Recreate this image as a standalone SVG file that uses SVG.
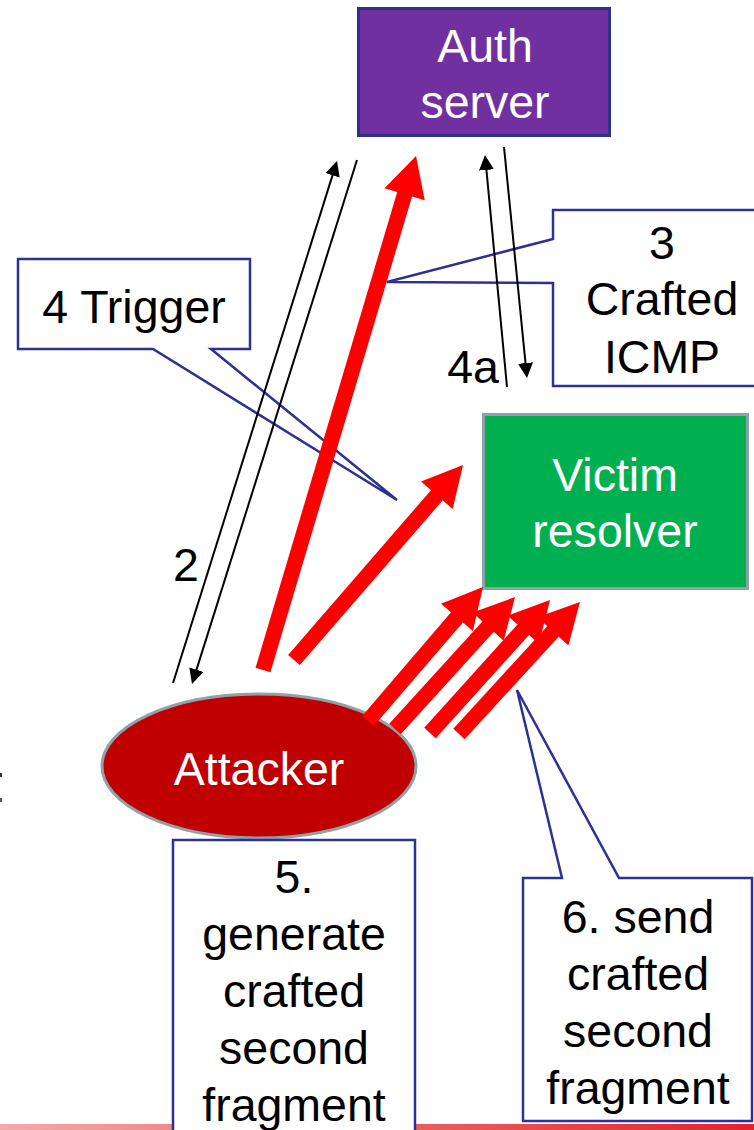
<svg xmlns="http://www.w3.org/2000/svg" width="754" height="1130" viewBox="0 0 754 1130">
<style>
text{font-family:"Liberation Sans",Arial,sans-serif;font-size:46.5px;text-anchor:middle}
.w{fill:#ffffff}
.k{fill:#000000}
.call{fill:#ffffff;stroke:#2E3192;stroke-width:2.5;stroke-linejoin:miter}
.red{stroke:#FF0000;stroke-width:15.5;fill:none}
.blk{stroke:#000000;stroke-width:2;fill:none}
</style>
<defs>
<linearGradient id="bar" x1="0" y1="0" x2="1" y2="0">
<stop offset="0" stop-color="#F5A9A9"/>
<stop offset="0.5" stop-color="#EE6464"/>
<stop offset="1" stop-color="#E8202A"/>
</linearGradient>
<marker id="rh" markerUnits="userSpaceOnUse" markerWidth="42" markerHeight="42" refX="1" refY="21" orient="auto" viewBox="0 0 40 42">
<path d="M0,0 L40,21 L0,42 Z" fill="#FF0000"/>
</marker>
<marker id="bh" markerUnits="userSpaceOnUse" markerWidth="15" markerHeight="15" refX="12" refY="7.5" orient="auto" viewBox="0 0 15 15">
<path d="M0,0 L15,7.5 L0,15 Z" fill="#000000"/>
</marker>
</defs>
<rect x="0" y="1124" width="754" height="6" fill="url(#bar)"/>
<rect x="0" y="773" width="2" height="4" fill="#333333"/>
<rect x="0" y="798" width="2" height="4" fill="#555555"/>

<g id="auth-server">
<rect x="358.5" y="8.5" width="251" height="127" fill="#7030A0" stroke="#2E3192" stroke-width="3"/>
<text class="w" x="485" y="62">Auth</text>
<text class="w" x="485" y="118">server</text>
</g>

<g id="victim-resolver">
<rect x="483.5" y="414.5" width="264" height="174" fill="#00B050" stroke="#8FA2A8" stroke-width="3"/>
<text class="w" x="615" y="491">Victim</text>
<text class="w" x="615" y="547">resolver</text>
</g>

<g id="attacker">
<ellipse cx="259" cy="766" rx="157" ry="72" fill="#C00000" stroke="#8FA2A8" stroke-width="3"/>
<text class="w" x="259" y="785">Attacker</text>
</g>

<g id="label-2"><text class="k" x="186" y="581">2</text></g>
<g id="label-4a"><text class="k" x="473" y="383">4a</text></g>

<g id="callout-trigger">
<path class="call" d="M18,259 H250 V349 H211 L397,500 L153,349 H18 Z"/>
<text class="k" x="134" y="323">4 Trigger</text>
</g>

<g id="callout-icmp">
<path class="call" d="M553,210 H760 V386 H553 V283 L387,282 L553,239 Z"/>
<text class="k" x="662" y="259">3</text>
<text class="k" x="662" y="315">Crafted</text>
<text class="k" x="662" y="373">ICMP</text>
</g>

<g id="callout-generate">
<path class="call" d="M173,840 H415 V1140 H173 Z"/>
<text class="k" x="294" y="893">5.</text>
<text class="k" x="294" y="950">generate</text>
<text class="k" x="294" y="1007">crafted</text>
<text class="k" x="294" y="1064">second</text>
<text class="k" x="294" y="1121">fragment</text>
</g>

<g id="callout-send">
<path class="call" d="M523,878 H562 L517,690 L619,878 H752 V1121 H523 Z"/>
<text class="k" x="638" y="933">6. send</text>
<text class="k" x="638" y="990">crafted</text>
<text class="k" x="638" y="1047">second</text>
<text class="k" x="638" y="1104">fragment</text>
</g>

<g id="connectors">
<line class="blk" x1="173" y1="683" x2="336.1" y2="163.9" marker-end="url(#bh)"/>
<line class="blk" x1="357" y1="160" x2="192.9" y2="681.1" marker-end="url(#bh)"/>
<line class="blk" x1="507" y1="387" x2="485.3" y2="158" marker-end="url(#bh)"/>
<line class="blk" x1="504" y1="147" x2="526.7" y2="375" marker-end="url(#bh)"/>
<line class="red" x1="263" y1="670" x2="404.9" y2="193.4" marker-end="url(#rh)"/>
<line class="red" x1="294" y1="660" x2="437.5" y2="494.5" marker-end="url(#rh)"/>
<line class="red" x1="368" y1="721" x2="457.6" y2="616.6" marker-end="url(#rh)"/>
<line class="red" x1="395" y1="729" x2="488.8" y2="625.9" marker-end="url(#rh)"/>
<line class="red" x1="430" y1="733" x2="523.9" y2="629" marker-end="url(#rh)"/>
<line class="red" x1="459" y1="734" x2="553.6" y2="630.7" marker-end="url(#rh)"/>
</g>
</svg>
